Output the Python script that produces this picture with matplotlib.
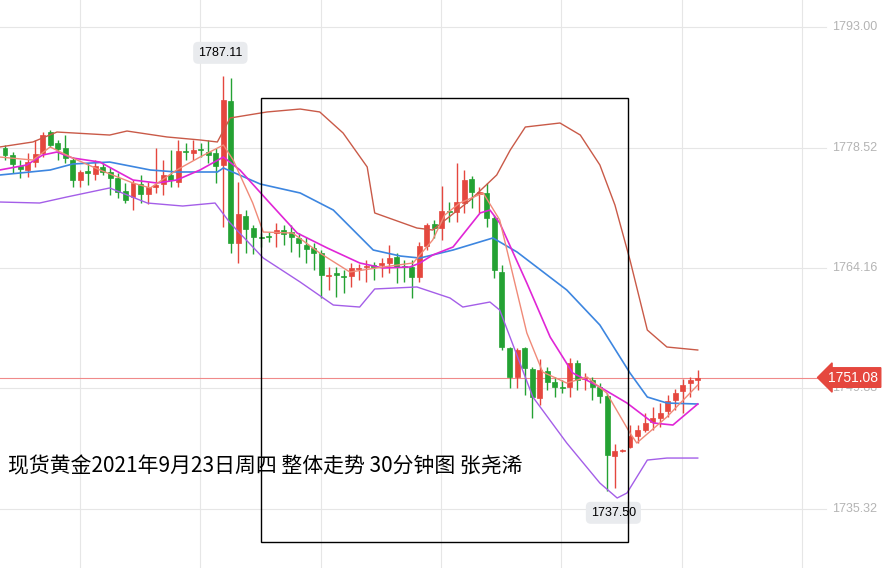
import numpy as np
import matplotlib
matplotlib.use("Agg")
import matplotlib.pyplot as plt
from matplotlib.patches import Rectangle

plt.rcParams['font.family'] = ['Noto Sans CJK SC', 'DejaVu Sans']

# OHLC for the 93 half-hour candles
opens = [1778.53, 1777.69, 1776.38, 1775.90, 1776.85, 1777.93, 1780.44, 1779.13, 1778.53, 1777.09,
         1774.70, 1775.78, 1775.42, 1776.26, 1775.66, 1774.94, 1773.39, 1772.67, 1774.22, 1773.03,
         1773.86, 1774.22, 1775.30, 1774.46, 1778.17, 1777.93, 1778.41, 1778.05, 1777.93, 1776.50,
         1784.15, 1767.17, 1770.40, 1768.96, 1767.89, 1768.00, 1768.36, 1768.72, 1768.48, 1767.77,
         1766.93, 1766.57, 1765.97, 1763.22, 1763.58, 1763.22, 1763.22, 1764.06, 1764.30, 1764.54,
         1764.54, 1764.78, 1765.49, 1764.42, 1764.30, 1763.10, 1766.81, 1769.44, 1768.96, 1770.99,
         1770.87, 1771.95, 1774.82, 1773.03, 1773.15, 1770.16, 1763.70, 1754.61, 1751.14, 1754.61,
         1752.10, 1748.63, 1751.86, 1750.54, 1749.95, 1749.95, 1752.81, 1750.90, 1750.78, 1749.95,
         1748.87, 1741.69, 1742.30, 1742.77, 1744.08, 1744.80, 1745.76, 1746.24, 1747.08, 1748.39,
         1749.47, 1750.42, 1750.78]
closes = [1777.69, 1776.62, 1776.02, 1776.85, 1777.81, 1780.08, 1778.89, 1778.41, 1777.33, 1774.70,
          1775.66, 1775.54, 1776.38, 1775.66, 1774.94, 1773.27, 1772.31, 1774.34, 1773.03, 1773.86,
          1774.10, 1775.30, 1774.70, 1778.17, 1778.05, 1778.29, 1778.29, 1777.69, 1776.38, 1784.27,
          1767.17, 1770.64, 1768.84, 1767.89, 1767.80, 1767.89, 1768.72, 1768.24, 1767.89, 1767.17,
          1766.45, 1765.97, 1763.34, 1763.34, 1763.34, 1763.10, 1764.18, 1764.18, 1764.42, 1764.30,
          1764.78, 1765.37, 1764.30, 1764.30, 1763.10, 1766.81, 1769.32, 1768.96, 1770.99, 1770.87,
          1772.07, 1774.70, 1773.27, 1773.27, 1770.16, 1763.94, 1754.73, 1751.14, 1754.37, 1752.22,
          1748.75, 1751.98, 1750.54, 1749.95, 1749.83, 1752.81, 1750.78, 1751.02, 1749.95, 1748.87,
          1741.81, 1742.29, 1742.40, 1744.08, 1744.80, 1745.64, 1746.24, 1746.84, 1748.27, 1749.23,
          1750.18, 1750.78, 1751.08]
highs = [1778.89, 1778.05, 1777.09, 1777.93, 1779.49, 1780.44, 1780.68, 1779.49, 1780.08, 1777.45,
         1775.90, 1776.74, 1777.09, 1776.74, 1776.26, 1775.54, 1774.34, 1774.70, 1775.30, 1774.46,
         1778.53, 1777.09, 1778.29, 1779.49, 1779.13, 1779.49, 1779.13, 1779.49, 1778.53, 1787.11,
         1786.90, 1774.46, 1771.11, 1769.32, 1768.36, 1768.48, 1769.56, 1769.32, 1769.32, 1768.36,
         1767.89, 1767.17, 1766.33, 1764.30, 1764.30, 1763.94, 1764.78, 1764.66, 1765.13, 1764.90,
         1765.37, 1766.93, 1765.97, 1765.13, 1765.13, 1767.29, 1769.56, 1769.92, 1773.98, 1772.07,
         1776.74, 1775.90, 1775.18, 1773.86, 1774.34, 1770.52, 1764.54, 1754.73, 1754.61, 1754.73,
         1752.34, 1753.29, 1752.34, 1751.14, 1750.78, 1753.41, 1753.17, 1751.62, 1751.14, 1750.42,
         1749.23, 1743.13, 1742.50, 1745.40, 1745.40, 1746.84, 1747.56, 1748.03, 1748.99, 1749.71,
         1750.90, 1751.14, 1751.98]
lows = [1777.09, 1775.54, 1774.94, 1775.06, 1776.26, 1777.45, 1778.65, 1777.09, 1776.74, 1773.86,
        1773.86, 1774.10, 1774.70, 1775.30, 1772.91, 1772.55, 1771.95, 1771.11, 1771.95, 1771.83,
        1773.15, 1772.91, 1773.86, 1773.86, 1777.09, 1777.09, 1777.45, 1776.74, 1774.34, 1769.08,
        1765.97, 1764.78, 1765.97, 1765.85, 1766.69, 1767.29, 1766.69, 1766.93, 1766.09, 1765.49,
        1764.78, 1763.94, 1760.59, 1761.55, 1760.71, 1761.19, 1761.91, 1762.74, 1762.50, 1762.74,
        1763.10, 1763.58, 1762.38, 1762.50, 1760.59, 1762.50, 1766.33, 1767.77, 1767.53, 1769.68,
        1769.68, 1770.76, 1771.35, 1770.76, 1769.08, 1762.98, 1754.37, 1749.83, 1749.83, 1748.99,
        1746.24, 1747.80, 1749.59, 1748.75, 1749.23, 1748.75, 1749.59, 1749.59, 1748.39, 1748.03,
        1737.50, 1737.86, 1742.20, 1742.65, 1743.25, 1744.56, 1744.80, 1745.16, 1746.36, 1747.20,
        1746.84, 1748.75, 1749.59]

# indicator lines, read at selected candle positions
mid_idx = [-0.7, 6.0, 9.0, 13.9, 19.3, 22.8, 28.2, 29.0, 33.9, 39.2, 43.6, 48.9, 52.5, 55.1, 59.5,
           64.8, 68.0, 74.6, 79.0, 83.0, 85.3, 87.9, 92.0]
mid_val = [1775.30, 1775.90, 1776.62, 1776.85, 1775.90, 1775.66, 1775.66, 1776.14, 1774.22, 1773.15,
           1771.11, 1766.33, 1765.61, 1765.37, 1766.33, 1767.77, 1766.09, 1761.55, 1757.36, 1751.62,
           1748.75, 1748.03, 1747.91]
up_idx = [-0.7, 3.7, 6.9, 13.9, 16.2, 21.5, 25.9, 28.2, 29.9, 34.8, 39.2, 41.8, 44.9, 48.1, 49.1,
          54.7, 56.8, 61.8, 65.3, 67.1, 69.1, 73.7, 76.4, 79.0, 81.0, 83.0, 85.3, 87.9, 92.0]
up_val = [1778.65, 1779.25, 1780.44, 1780.08, 1780.56, 1779.85, 1779.49, 1779.25, 1782.12, 1782.84,
          1783.19, 1782.84, 1780.32, 1776.26, 1770.76, 1768.96, 1768.72, 1772.31, 1775.30, 1778.29,
          1781.04, 1781.52, 1780.08, 1776.50, 1771.71, 1765.13, 1756.76, 1754.73, 1754.37]
low_idx = [-0.7, 4.6, 8.2, 13.9, 18.9, 23.6, 27.9, 29.9, 34.3, 39.2, 43.6, 47.1, 49.1, 54.7, 59.1,
           60.8, 64.4, 65.7, 70.1, 74.6, 79.0, 81.3, 82.6, 85.3, 87.9, 92.0]
low_val = [1772.07, 1771.95, 1772.67, 1773.75, 1771.95, 1771.59, 1771.95, 1769.56, 1765.37, 1762.50,
           1759.75, 1759.51, 1761.67, 1761.91, 1760.59, 1759.51, 1760.11, 1759.15, 1748.75, 1743.25,
           1738.46, 1736.67, 1737.27, 1741.21, 1741.45, 1741.45]
ma10_idx = [-0.7, 2.9, 5.0, 6.9, 9.0, 12.6, 17.0, 20.2, 22.8, 25.9, 29.0, 31.2, 34.8, 38.8, 42.8,
            47.1, 50.2, 53.8, 55.1, 56.8, 59.5, 63.1, 64.4, 65.7, 69.3, 72.4, 75.4, 79.0, 82.6,
            86.1, 88.7, 92.0]
ma10_val = [1775.90, 1776.50, 1777.69, 1778.05, 1777.33, 1776.85, 1774.70, 1774.34, 1774.70, 1775.90,
            1777.45, 1775.90, 1772.31, 1768.36, 1766.57, 1764.78, 1764.18, 1764.30, 1764.78, 1765.73,
            1766.69, 1770.76, 1771.11, 1769.56, 1762.38, 1755.92, 1751.62, 1749.95, 1748.03, 1745.64,
            1745.40, 1747.91]
ma5_idx = [-0.7, 3.7, 6.0, 9.0, 12.6, 17.0, 19.3, 22.8, 25.9, 29.0, 30.3, 32.9, 34.3, 38.2, 41.8,
           45.8, 50.2, 54.2, 56.8, 58.4, 60.4, 63.5, 65.7, 69.3, 71.4, 74.6, 77.3, 79.9, 83.0, 83.9,
           87.9, 92.0]
ma5_val = [1777.45, 1777.09, 1778.65, 1777.33, 1775.90, 1774.34, 1773.75, 1775.90, 1777.45, 1778.89,
           1777.09, 1771.95, 1768.48, 1768.36, 1765.97, 1763.70, 1764.30, 1764.78, 1767.53, 1770.52,
           1771.95, 1773.15, 1769.92, 1756.41, 1751.74, 1750.42, 1751.14, 1749.23, 1744.44, 1743.25,
           1746.36, 1750.18]

price_ticks = [1793.00, 1778.52, 1764.16, 1749.88, 1735.32]
last_price = 1751.08
title = "现货黄金2021年9月23日周四 整体走势 30分钟图 张尧浠"

RED = '#e5473e'
GREEN = '#24a233'
NUMFONT = ['Liberation Sans', 'DejaVu Sans']

fig = plt.figure(figsize=(8.92, 5.68), dpi=100)
ax = fig.add_axes([0, 0, 1, 1])
step = 7.53
ax.set_xlim(-5 / step, (892 - 5) / step)
ax.set_ylim(1728.30, 1796.23)
ax.axis('off')

# grid
for gx in np.arange(80, 810, 120.3):
    ax.axvline((gx - 5) / step, color='#e6e6e6', lw=0.8, zorder=0)
for p in price_ticks:
    ax.axhline(p, xmax=826 / 892, color='#e6e6e6', lw=0.8, zorder=0)
    ax.text((832 - 5) / step, p, f"{p:.2f}", color='#b4b4b4', fontsize=9,
            va='center', ha='left', family=NUMFONT)

# candles
for i in range(len(opens)):
    o, c, h, l = opens[i], closes[i], highs[i], lows[i]
    col = RED if c >= o else GREEN
    ax.vlines(i, l, h, color=col, lw=1, zorder=3)
    bot, top = min(o, c), max(o, c)
    ax.add_patch(Rectangle((i - 0.33, bot), 0.66, max(top - bot, 0.12),
                           facecolor=col, edgecolor=col, lw=0.5, zorder=4))

# indicators
ax.plot(up_idx, up_val, color='#c95a48', lw=1, zorder=5)
ax.plot(low_idx, low_val, color='#a45ee8', lw=1, zorder=5)
ax.plot(mid_idx, mid_val, color='#3d86e0', lw=1.2, zorder=5)
ax.plot(ma10_idx, ma10_val, color='#e026d6', lw=1.2, zorder=5)
ax.plot(ma5_idx, ma5_val, color='#f08a78', lw=1, zorder=5)

# last price line and tag
ax.axhline(last_price, xmax=822 / 892, color='#f08a8a', lw=0.8, zorder=2)
ax.text((828 - 5) / step, last_price, f"{last_price:.2f}", color='white', fontsize=10,
        va='center', ha='left', family=NUMFONT, zorder=8,
        bbox=dict(boxstyle='larrow,pad=0.2', fc=RED, ec=RED))

# high / low labels
hi_i = int(np.argmax(highs))
lo_i = int(np.argmin(lows))
ax.text(hi_i - 0.4, max(highs) + 2.8, f"{max(highs):.2f}", fontsize=9, ha='center', va='center',
        family=NUMFONT, bbox=dict(boxstyle='round,pad=0.4', fc='#e9ebee', ec='none'))
ax.text(lo_i + 0.8, min(lows) - 2.6, f"{min(lows):.2f}", fontsize=9, ha='center', va='center',
        family=NUMFONT, bbox=dict(boxstyle='round,pad=0.4', fc='#e9ebee', ec='none'))

# frame box
ax.add_patch(Rectangle(((261 - 5) / step, 1731.40), (628 - 261) / step, 53.1,
                       fill=False, edgecolor='black', lw=1, zorder=6))

ax.text(8 / 892, 1 - 466 / 568, title, transform=ax.transAxes, fontsize=15,
        va='center', ha='left', zorder=9)

fig.savefig('out.png', dpi=100)
